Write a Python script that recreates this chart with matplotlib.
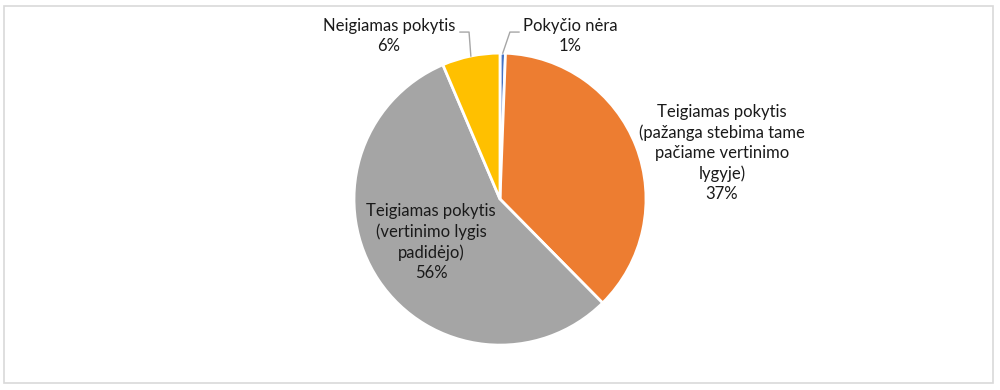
import numpy as np
import matplotlib
matplotlib.use("Agg")
import matplotlib.pyplot as plt
from matplotlib.patches import Rectangle

categories = ["Pokyčio nėra",
              "Teigiamas pokytis\n(pažanga stebima tame\npačiame vertinimo\nlygyje)",
              "Teigiamas pokytis\n(vertinimo lygis\npadidėjo)",
              "Neigiamas pokytis"]
values = [0.6, 37.0, 56.0, 6.4]
colors = ["#4472C4", "#ED7D31", "#A5A5A5", "#FFC000"]

plt.rcParams['font.family'] = ['Lato', 'DejaVu Sans']
txt_color = "#1a1a1a"

fig = plt.figure(figsize=(10, 3.9), dpi=100)
fig.patches.append(Rectangle((0.004, 0.018), 0.989, 0.967, transform=fig.transFigure,
                             fill=False, edgecolor="#d9d9d9", linewidth=1.2))

ax = fig.add_axes([0.354, 0.115, 0.292, 0.749])
wedges, _ = ax.pie(values, colors=colors, startangle=90, counterclock=False,
                   radius=1, wedgeprops=dict(edgecolor="white", linewidth=2))
ax.set_xlim(-1, 1)
ax.set_ylim(-1, 1)
ax.set_aspect('equal')
ax.axis('off')

total = sum(values)
labels = [f"{c}\n{round(v / total * 100)}%" for c, v in zip(categories, values)]

fs = 12
# label positions (data coords, radius = 1)
pos = [(0.479, 1.116), (1.521, 0.315), (-0.473, -0.295), (-0.76, 1.116)]
for lab, (x, y) in zip(labels, pos):
    ax.text(x, y, lab, ha='center', va='center', fontsize=fs, color=txt_color,
            linespacing=1.32, clip_on=False)

# leader lines for small slices
cum = np.cumsum([0] + values)
def mid_point(i):
    frac = (cum[i] + cum[i + 1]) / 2 / total
    ang = np.deg2rad(90 - frac * 360)
    return np.cos(ang), np.sin(ang)

x0, y0 = mid_point(0)
ax.plot([x0, 0.068, 0.13], [y0, 1.144, 1.144], color="#a6a6a6", lw=1, clip_on=False)
x3, y3 = mid_point(3)
ax.plot([x3, -0.212, -0.274], [y3, 1.144, 1.144], color="#a6a6a6", lw=1, clip_on=False)

fig.savefig("out.png", dpi=100)
